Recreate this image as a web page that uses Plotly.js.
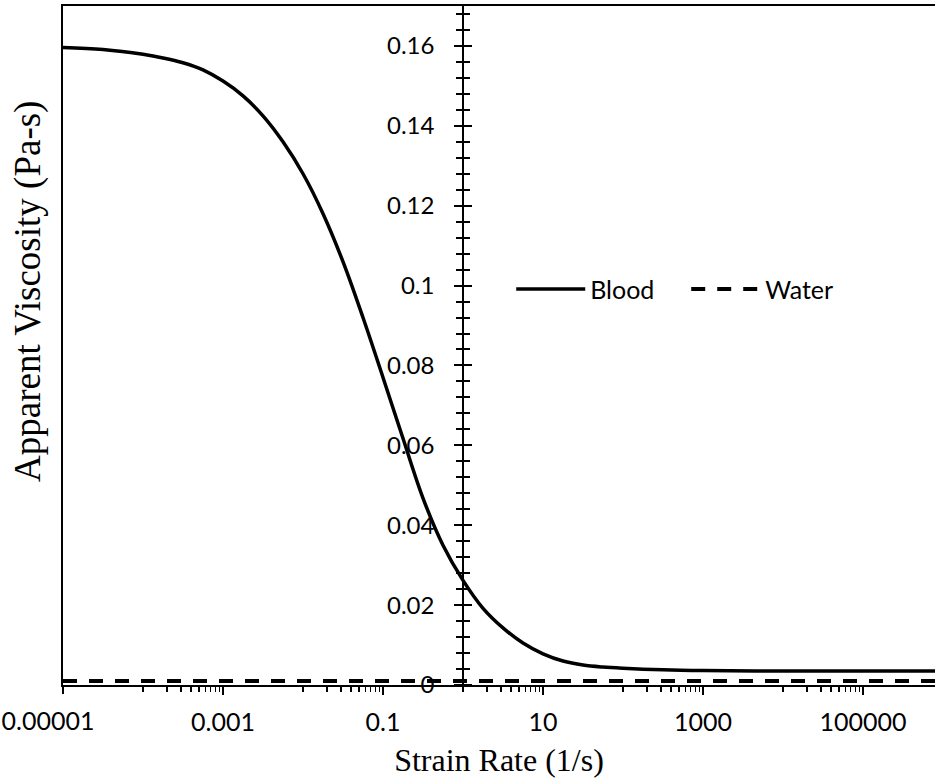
<!DOCTYPE html>
<html>
<head>
<meta charset="utf-8">
<script src="https://cdn.plot.ly/plotly-3.0.1.min.js"></script>
<style>body{margin:0;padding:0;background:#fff;} #chart{width:935px;height:780px;}</style>
</head>
<body>
<div id="chart"></div>
<script>
// ---- data ----
var strainRate = [0.00001, 0.0000316, 0.0001, 0.000178, 0.000316, 0.000562, 0.001, 0.00178, 0.00316, 0.00562,
  0.01, 0.0178, 0.0316, 0.0562, 0.1, 0.178, 0.316, 0.562, 1, 1.78, 3.16, 5.62, 10, 17.8, 31.6, 56.2,
  100, 316, 1000, 10000, 100000, 1000000];
var bloodViscosity = [0.1596, 0.1591, 0.1579, 0.1570, 0.1558, 0.1540, 0.1512, 0.1475, 0.1425, 0.1360,
  0.1280, 0.1180, 0.1060, 0.0920, 0.0770, 0.0617, 0.0468, 0.0350, 0.0262, 0.0192, 0.0143, 0.0105, 0.0078, 0.0060, 0.0050, 0.0045,
  0.0042, 0.0038, 0.0036, 0.0035, 0.0035, 0.0035];
var waterRate = [0.00001, 1000000];
var waterViscosity = [0.001, 0.001];

var xTickVals = [0.001, 0.1, 10, 1000, 100000];
var xTickText = ['0.001', '0.1', '10', '1000', '100000'];
var xFirstTickVal = [0.00001];
var xFirstTickText = ['0.00001'];
var yTickVals = [0, 0.02, 0.04, 0.06, 0.08, 0.1, 0.12, 0.14, 0.16];
var yTickText = ['0', '0.02', '0.04', '0.06', '0.08', '0.1', '0.12', '0.14', '0.16'];

// minor tick positions of the base-100 log axis (10x .. 90x each major)
var xMinor = [];
[-5, -3, -1, 1, 3, 5].forEach(function (e) {
  for (var k = 1; k <= 9; k++) xMinor.push(k * Math.pow(10, e + 1));
});

var tickFont = {family: 'Lato, "Open Sans", sans-serif', size: 25, color: '#000'};
var yTickFont = {family: 'Lato, "Open Sans", sans-serif', size: 24, color: '#000'};
var titleFont = {family: '"Liberation Serif", "Times New Roman", serif', size: 32, color: '#000'};
var yTitleFont = {family: '"Liberation Serif", "Times New Roman", serif', size: 37, color: '#000'};

var traces = [
  {x: strainRate, y: bloodViscosity, name: 'Blood', type: 'scatter', mode: 'lines',
   xaxis: 'x', yaxis: 'y', hoverinfo: 'skip',
   line: {color: '#000', width: 3.5, shape: 'spline', smoothing: 1}},
  {x: waterRate, y: waterViscosity, name: 'Water', type: 'scatter', mode: 'lines',
   xaxis: 'x2', yaxis: 'y2', hoverinfo: 'skip',
   line: {color: '#000', width: 4, dash: '14px,12px'}},
  {x: waterRate, y: waterViscosity, name: 'Water', type: 'scatter', mode: 'lines',
   xaxis: 'x', yaxis: 'y3', hoverinfo: 'skip', showlegend: false, opacity: 0,
   line: {color: '#000', width: 1}}
];

var yCross = 0.459;
var layout = {
  width: 935, height: 780,
  margin: {l: 63, r: 0, t: 6, b: 95},
  paper_bgcolor: '#fff', plot_bgcolor: '#fff',
  showlegend: true,
  legend: {orientation: 'h', x: 0.514, xanchor: 'left', y: 0.583, yanchor: 'middle',
    font: tickFont, itemwidth: 69, entrywidth: 91, bgcolor: 'rgba(0,0,0,0)', traceorder: 'normal'},
  xaxis: {type: 'log', range: [-5, 5.9], showgrid: false, zeroline: false,
    showline: true, linecolor: '#000', linewidth: 2, mirror: true,
    tickmode: 'array', tickvals: xTickVals, ticktext: xTickText,
    ticks: 'outside', ticklen: 8, tickwidth: 1.5, tickcolor: '#000',
    ticklabelstandoff: 6,
    minor: {tickmode: 'array', tickvals: xMinor, ticks: 'outside', ticklen: 5, tickwidth: 1.5, tickcolor: '#000', showgrid: false},
    tickfont: tickFont,
    title: {text: 'Strain Rate (1/s)', font: titleFont, standoff: 14}},
  xaxis2: {type: 'log', range: [-5, 5.9], overlaying: 'x', anchor: 'y', side: 'bottom',
    showgrid: false, zeroline: false, showline: false,
    tickmode: 'array', tickvals: xFirstTickVal, ticktext: xFirstTickText,
    ticks: 'outside', ticklen: 8, tickwidth: 1.5, tickcolor: '#000',
    ticklabelstandoff: 6, ticklabelshift: -15, tickfont: tickFont},
  yaxis: {range: [0, 0.17], showgrid: false, zeroline: false,
    showline: true, linecolor: '#000', linewidth: 1.75,
    ticks: '', showticklabels: false},
  yaxis2: {range: [0, 0.17], overlaying: 'y', anchor: 'free', position: yCross, side: 'left',
    showgrid: false, zeroline: false, showline: true, linecolor: '#000', linewidth: 2,
    tickmode: 'array', tickvals: yTickVals, ticktext: yTickText,
    ticks: 'outside', ticklen: 8, tickwidth: 2, tickcolor: '#000',
    ticklabelstandoff: 15,
    minor: {dtick: 0.004, ticks: 'outside', ticklen: 6, tickwidth: 2, tickcolor: '#000', showgrid: false},
    tickfont: yTickFont},
  yaxis3: {range: [0, 0.17], overlaying: 'y', anchor: 'free', position: yCross, side: 'right',
    showgrid: false, zeroline: false, showline: false,
    tickmode: 'array', tickvals: yTickVals,
    ticks: 'outside', ticklen: 8, tickwidth: 2, tickcolor: '#000', showticklabels: false,
    minor: {dtick: 0.004, ticks: 'outside', ticklen: 6, tickwidth: 2, tickcolor: '#000', showgrid: false}},
  annotations: [
    {text: 'Apparent Viscosity (Pa-s)', textangle: -90, font: yTitleFont, showarrow: false,
     xref: 'paper', yref: 'paper', x: -0.040, y: 0.579, xanchor: 'center', yanchor: 'middle'}
  ]
};

Plotly.newPlot('chart', traces, layout, {displayModeBar: false, staticPlot: true});
</script>
</body>
</html>
